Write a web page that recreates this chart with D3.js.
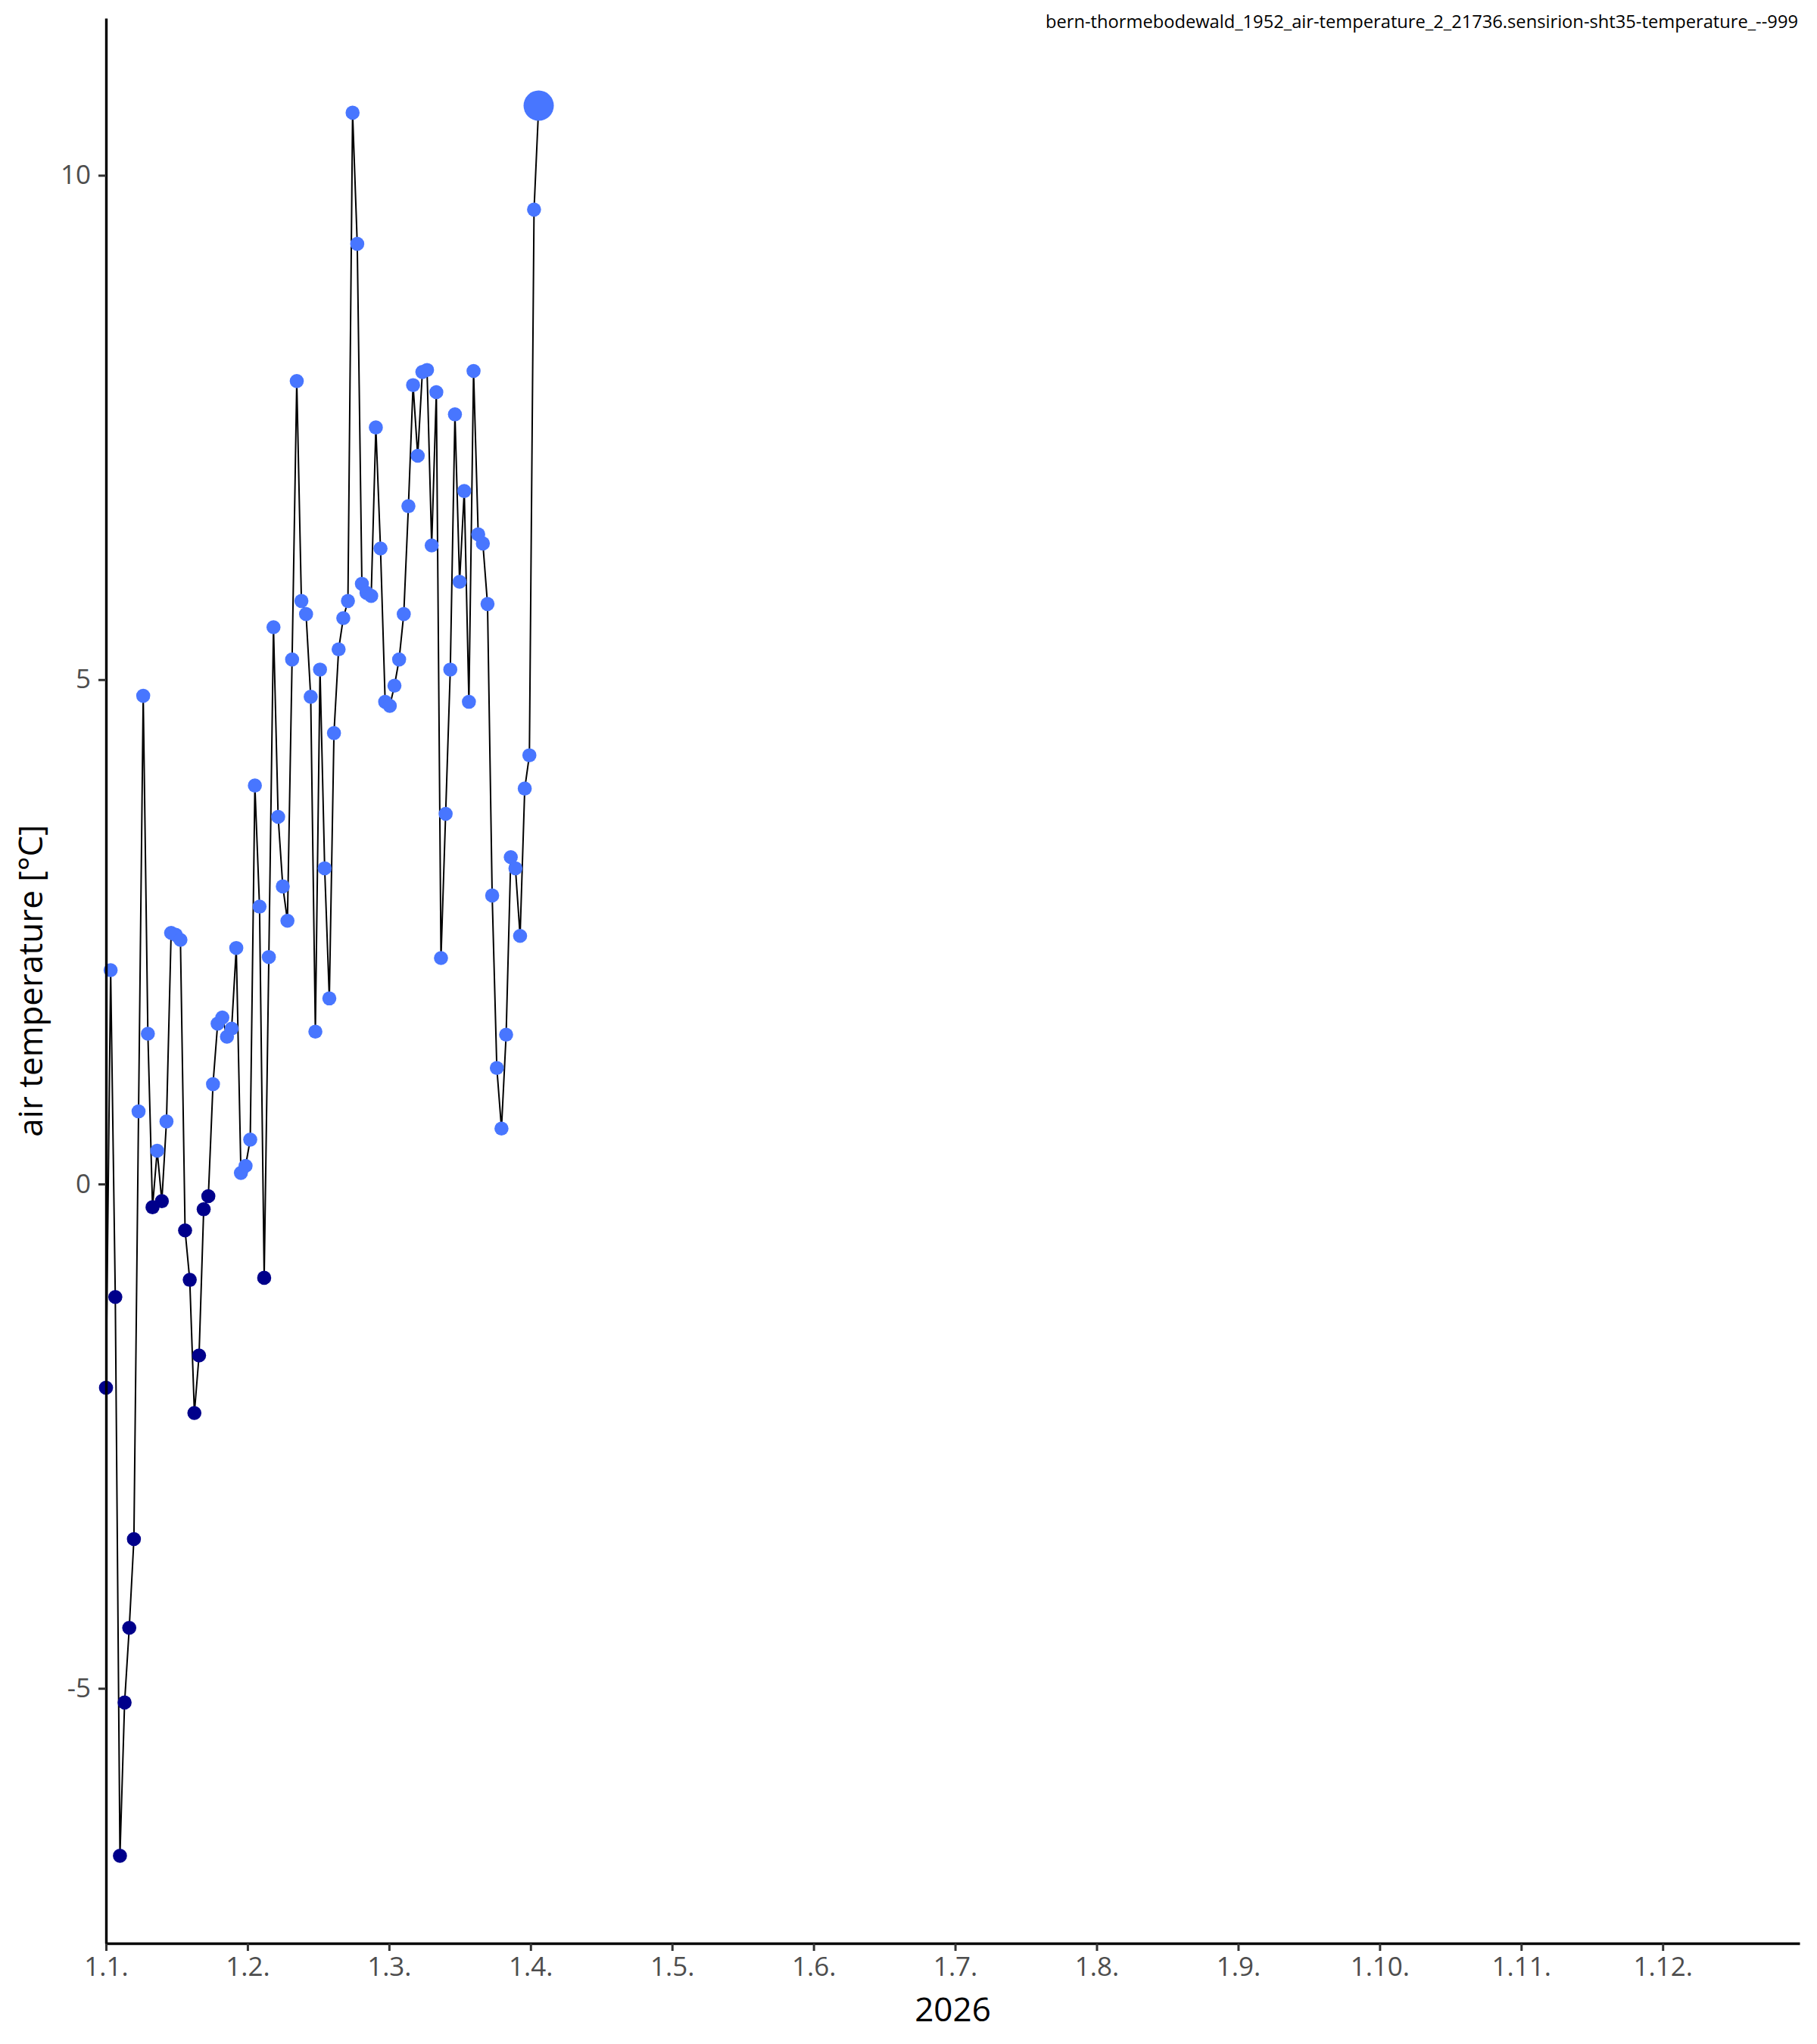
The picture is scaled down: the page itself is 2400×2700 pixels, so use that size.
<!DOCTYPE html>
<html>
<head>
<meta charset="utf-8">
<script src="https://cdn.jsdelivr.net/npm/d3@7"></script>
<style>
    body { margin: 0; background: #fff; }
    text { font-family: "Open Sans", "Noto Sans", sans-serif; }
</style>
</head>
<body>
<div id="chart"></div>
<script>
(function(){

    var title = "bern-thormebodewald_1952_air-temperature_2_21736.sensirion-sht35-temperature_--999";
    var yTitle = "air temperature [°C]";
    var xTitle = "2026";

    /* one value per day from 1.1. on */
    var startDay = "2026-01-01";
    var endDay = "2026-12-31";
    var temperature = [
        -2.02, 2.12, -1.12, -6.66, -5.14, -4.40, -3.52, 0.72, 4.84, 1.49,
        -0.23, 0.33, -0.17, 0.62, 2.49, 2.47, 2.42, -0.46, -0.95, -2.27,
        -1.70, -0.25, -0.12, 0.99, 1.59, 1.65, 1.46, 1.54, 2.34, 0.11,
        0.18, 0.44, 3.95, 2.75, -0.93, 2.25, 5.52, 3.64, 2.95, 2.61,
        5.20, 7.96, 5.78, 5.65, 4.83, 1.51, 5.10, 3.13, 1.84, 4.47,
        5.30, 5.61, 5.78, 10.62, 9.32, 5.95, 5.86, 5.83, 7.50, 6.30,
        4.78, 4.74, 4.94, 5.20, 5.65, 6.72, 7.92, 7.22, 8.05, 8.07,
        6.33, 7.85, 2.24, 3.67, 5.10, 7.63, 5.97, 6.87, 4.78, 8.06,
        6.44, 6.35, 5.75, 2.86, 1.15, 0.55, 1.48, 3.24, 3.13, 2.46,
        3.92, 4.25, 9.66, 10.69
    ];

    var monthLabels = ["1.1.", "1.2.", "1.3.", "1.4.", "1.5.", "1.6.",
                       "1.7.", "1.8.", "1.9.", "1.10.", "1.11.", "1.12."];
    var yTicks = [-5, 0, 5, 10];

    var chart = {
        width: 2400,
        height: 2700,
        left: 140,
        right: 23,
        top: 24,
        bottom: 133,
        radius: 9.3,
        lastRadius: 20
    };

    var start = new Date(startDay + "T00:00:00Z");
    var end = new Date(endDay + "T00:00:00Z");

    var data = temperature.map(function(v, i){
        return { date: d3.utcDay.offset(start, i), value: v };
    });

    var svg = d3.select("#chart")
        .append("svg")
        .attr("width", chart.width)
        .attr("height", chart.height);

    var x = d3.scaleUtc()
        .domain([start, end])
        .range([chart.left, chart.width - chart.right]);

    /* ggplot style 5% expansion on y */
    var ext = d3.extent(temperature);
    var pad = (ext[1] - ext[0]) * 0.05;
    var y = d3.scaleLinear()
        .domain([ext[0] - pad, ext[1] + pad])
        .range([chart.height - chart.bottom, chart.top]);

    /* month ticks sit evenly spaced over the year */
    var yearMs = (end - start) + 864e5;
    var monthTicks = monthLabels.map(function(d, k){
        return new Date(start.getTime() + k * yearMs / 12);
    });

    /* line */
    var line = d3.line()
        .x(function(d){ return x(d.date); })
        .y(function(d){ return y(d.value); });

    svg.append("path")
        .datum(data)
        .attr("d", line)
        .style("fill", "none")
        .style("stroke", "#000")
        .style("stroke-width", 2);

    /* points */
    svg.selectAll("circle.pt")
        .data(data)
        .enter()
        .append("circle")
        .attr("class", "pt")
        .attr("cx", function(d){ return x(d.date); })
        .attr("cy", function(d){ return y(d.value); })
        .attr("r", function(d, i){
            return i == data.length - 1 ? chart.lastRadius : chart.radius;
        })
        .style("fill", function(d){
            return d.value < 0 ? "#00008B" : "#4876FF";
        });

    /* x axis */
    var xAxis = svg.append("g")
        .attr("transform", "translate(0," + (chart.height - chart.bottom) + ")")
        .call(d3.axisBottom(x)
            .tickValues(monthTicks)
            .tickSizeInner(10)
            .tickSizeOuter(0)
            .tickPadding(8)
            .tickFormat(function(d, k){ return monthLabels[k]; }));

    /* y axis */
    var yAxis = svg.append("g")
        .attr("transform", "translate(" + chart.left + ",0)")
        .call(d3.axisLeft(y)
            .tickValues(yTicks)
            .tickSizeInner(10)
            .tickSizeOuter(0)
            .tickPadding(10)
            .tickFormat(function(d){ return String(d); }));

    [xAxis, yAxis].forEach(function(g){
        g.select(".domain")
            .style("stroke", "#000")
            .style("stroke-width", 3.4);
        g.selectAll(".tick line")
            .style("stroke", "#333")
            .style("stroke-width", 3);
        g.selectAll(".tick text")
            .style("fill", "#4D4D4D")
            .style("font-size", "35px")
            .style("font-family", "'Open Sans', 'Noto Sans', sans-serif");
    });

    /* axis titles */
    svg.append("text")
        .attr("x", (chart.left + chart.width - chart.right) / 2)
        .attr("y", 2670)
        .attr("text-anchor", "middle")
        .style("font-size", "44px")
        .style("fill", "#000")
        .text(xTitle);

    svg.append("text")
        .attr("transform", "translate(56," + ((chart.top + chart.height - chart.bottom) / 2) + ") rotate(-90)")
        .attr("text-anchor", "middle")
        .style("font-size", "44px")
        .style("fill", "#000")
        .text(yTitle);

    /* title top right */
    svg.append("text")
        .attr("x", 2375)
        .attr("y", 37)
        .attr("text-anchor", "end")
        .style("font-size", "23.7px")
        .style("fill", "#000")
        .text(title);

})();
</script>
</body>
</html>
